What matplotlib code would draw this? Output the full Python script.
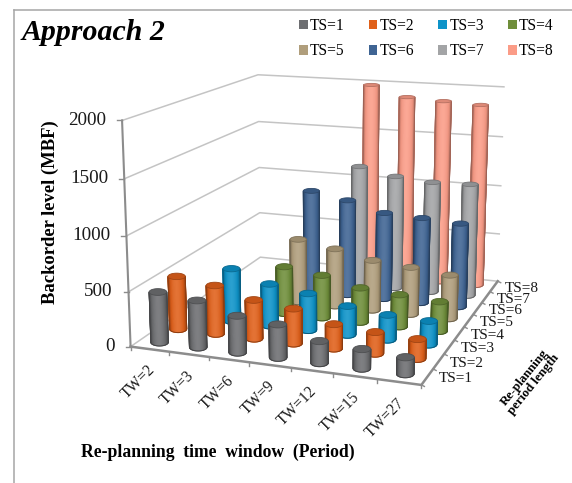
import numpy as np
import matplotlib
matplotlib.use("Agg")
import matplotlib.pyplot as plt
from matplotlib.colors import LinearSegmentedColormap
from matplotlib.patches import Patch, Polygon

plt.rcParams['font.family'] = ['Liberation Serif', 'DejaVu Serif']

# ---------- data ----------
tw_labels = ["TW=2", "TW=3", "TW=6", "TW=9", "TW=12", "TW=15", "TW=27"]
ts_labels = ["TS=1", "TS=2", "TS=3", "TS=4", "TS=5", "TS=6", "TS=7", "TS=8"]
z_ticks = [0, 500, 1000, 1500, 2000]
nan = float('nan')
ts1 = [463, 427, 331, 297, 194, 170, 146]
ts2 = [498, 452, 358, 320, 221, 194, 176]
ts3 = [nan, 503, 396, 346, 269, 229, 216]
ts4 = [nan, nan, 455, 410, 328, 303, 278]
ts5 = [nan, nan, 624, 565, 488, 457, 420]
ts6 = [nan, nan, 1020, 955, 860, 842, 820]
ts7 = [nan, nan, nan, 1216, 1143, 1112, 1120]
ts8 = [nan, nan, nan, 1981, 1877, 1856, 1838]
series = [ts1, ts2, ts3, ts4, ts5, ts6, ts7, ts8]
colors = ["#6d6e71", "#e0601a", "#0d93c9", "#6f8e3a",
          "#b09e7c", "#3f6493", "#a3a4a6", "#fb9c87"]

# ---------- projection: box coordinates (u, v, w in 0..1) to pixels ----------
anchors_3d = [(0,0,0),(1,0,0),(1,1,0),(0,1,0),(0,0,1),(0,1,1),(1,1,1)]
anchors_px = [(131,347),(421,385),(498,281),(260,257),(122,120),(258,75),(504,87)]
A, b = [], []
for (u,v,w),(px,py) in zip(anchors_3d, anchors_px):
    A.append([u,v,w,1,0,0,0,0,-px*u,-px*v,-px*w]); b.append(px)
    A.append([0,0,0,0,u,v,w,1,-py*u,-py*v,-py*w]); b.append(py)
h = np.linalg.lstsq(np.array(A,float), np.array(b,float), rcond=None)[0]
P = np.append(h, 1.0).reshape(3,4)

def project(u, v, w):
    u, v, w = np.broadcast_arrays(u, v, w)
    q = P @ np.vstack([u.ravel(), v.ravel(), w.ravel(), np.ones(u.size)])
    return q[0]/q[2], q[1]/q[2]

def pt(u, v, w):
    x, y = project(u, v, w)
    return float(x[0]), float(y[0])

fig = plt.figure(figsize=(5.72, 4.83), dpi=100)
ax = fig.add_axes([0, 0, 1, 1])
ax.set_xlim(0, 572); ax.set_ylim(483, 0); ax.axis('off')

# frame
frame = '#a6a6a6'
ax.plot([14, 14], [483, 9.5], color=frame, lw=1.1)
ax.plot([14, 572], [9.5, 9.5], color=frame, lw=1.1)

# walls and grid
grid = '#c4c4c4'
zmax = z_ticks[-1]
for z in z_ticks:
    w = z / zmax
    xs, ys = zip(pt(0,0,w), pt(0,1,w), pt(1,1,w))
    ax.plot(xs, ys, color=grid, lw=1.1, zorder=1)
# floor edges and main axes
axis_c = '#8c8c8c'
xs, ys = zip(pt(0,0,0), pt(1,0,0), pt(1,1,0))
ax.plot(xs, ys, color=axis_c, lw=1.8, zorder=2)
xs, ys = zip(pt(0,0,0), pt(0,0,1))
ax.plot(xs, ys, color=axis_c, lw=1.5, zorder=2)

n_tw, n_ts = len(tw_labels), len(ts_labels)
for i in range(n_tw + 1):
    x, y = pt(i/n_tw, 0, 0)
    ax.plot([x, x], [y, y+3.5], color=axis_c, lw=1, zorder=2)
for j in range(n_ts + 1):
    x, y = pt(1, j/n_ts, 0)
    ax.plot([x, x+3], [y, y+1.5], color=axis_c, lw=1, zorder=2)
for z in z_ticks:
    x, y = pt(0, 0, z/zmax)
    ax.plot([x-5, x], [y, y], color=axis_c, lw=1, zorder=2)
    ax.text(x-16, y, str(z), ha='right', va='center', fontsize=13.8, color='#1a1a1a')

# cylinders
def shade(c, f):
    c = np.array(matplotlib.colors.to_rgb(c))
    return tuple(np.clip(c*f if f < 1 else c + (1-c)*(f-1), 0, 1))

theta = np.linspace(0, 2*np.pi, 61)
front = np.linspace(0, np.pi, 25)
z0 = 3
for j in range(n_ts-1, -1, -1):
    vc = (j + 0.5) / n_ts
    cmap = LinearSegmentedColormap.from_list(
        'cyl', [shade(colors[j], 0.70), shade(colors[j], 0.95), shade(colors[j], 1.12)])
    for i in range(n_tw):
        val = series[j][i]
        if np.isnan(val):
            continue
        uc = (i + 0.5) / n_tw
        # local floor Jacobian, so the rim reads as a level ellipse on screen
        x0, y0 = pt(uc, vc, 0)
        xu, yu = pt(uc+0.01, vc, 0)
        xv, yv = pt(uc, vc+0.01, 0)
        J = np.array([[xu-x0, xv-x0], [yu-y0, yv-y0]]) / 0.01
        a = 8.8 - 1.4*vc
        c_ = 3.8 - 0.8*vc
        Ji = np.linalg.inv(J)
        def ring(t, w):
            d = Ji @ np.vstack([a*np.cos(t), c_*np.sin(t)])
            return project(uc + d[0], vc + d[1], np.full(t.size, w))
        bx, by = ring(front, 0.0)
        tx, ty = ring(front, val/zmax)
        X = np.vstack([bx, tx]); Y = np.vstack([by, ty])
        shade_val = 1 - (np.cos(front) + 0.05)**2
        C = np.vstack([shade_val, shade_val])
        ax.pcolormesh(X, Y, C, shading='gouraud', cmap=cmap, vmin=0, vmax=1, zorder=z0)
        ec = shade(colors[j], 0.62)
        ax.plot(np.r_[tx[0], bx, tx[-1]], np.r_[ty[0], by, ty[-1]], color=ec, lw=0.7, zorder=z0)
        rx, ry = ring(theta, val/zmax)
        ax.add_patch(Polygon(np.c_[rx, ry], closed=True, facecolor=shade(colors[j], 0.88),
                             edgecolor=shade(colors[j], 0.72), lw=0.6, zorder=z0))
        z0 += 1
ax.set_xlim(0, 572); ax.set_ylim(483, 0)

# category labels
for i, lab in enumerate(tw_labels):
    x, y = pt((i+0.5)/n_tw, 0, 0)
    ax.text(x-3, y+13, lab, rotation=45, ha='right', va='top', rotation_mode='anchor',
            fontsize=11.2, color='#1a1a1a', zorder=200)
for j, lab in enumerate(ts_labels):
    x, y = pt(1, (j+0.5)/n_ts, 0)
    ax.text(x+11, y+2, lab, ha='left', va='center', fontsize=11, color='#1a1a1a', zorder=200)

# titles
ax.text(22, 32, "Approach 2", fontsize=21.5, fontweight='bold', style='italic',
        ha='left', va='center', color='black')
ax.text(50, 212, "Backorder level (MBF)", rotation=90, fontsize=13.4, fontweight='bold',
        ha='center', va='center', color='black')
ax.text(218, 452, "Re-planning  time  window  (Period)", fontsize=12.7, fontweight='bold',
        ha='center', va='center', color='black')
ax.text(529, 381, "Re-planning\nperiod length", rotation=51, fontsize=9.4, fontweight='bold',
        ha='center', va='center', rotation_mode='anchor', linespacing=1.0, color='black')

# legend (row-wise order in four columns)
handles = [Patch(facecolor=c, edgecolor='none', label=l) for c, l in zip(colors, ts_labels)]
order = [0, 4, 1, 5, 2, 6, 3, 7]
ax.legend([handles[k] for k in order], [ts_labels[k] for k in order], ncol=4,
          loc='upper left', bbox_to_anchor=(299/572, 1-18/483), frameon=False,
          fontsize=11.2, handlelength=0.55, handleheight=0.55, handletextpad=0.15,
          columnspacing=1.55, labelspacing=0.6, borderpad=0, borderaxespad=0)

fig.savefig('out.png', dpi=100)
